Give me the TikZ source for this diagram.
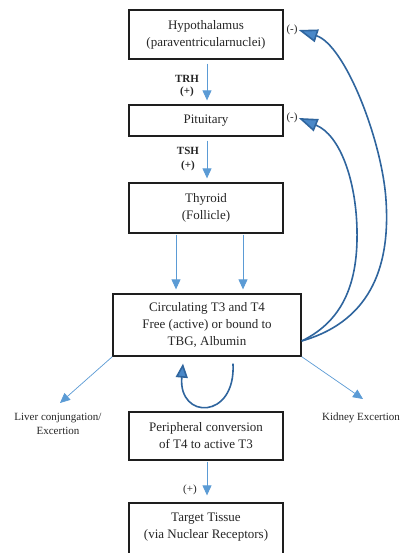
\documentclass[tikz,border=0pt]{standalone}
\usepackage{fontspec}
\setmainfont{Liberation Serif}
\usetikzlibrary{arrows.meta}
\definecolor{thinblue}{HTML}{5B9BD5}
\definecolor{darkblue}{HTML}{2F659E}
\definecolor{headblue}{HTML}{4A88C8}
\definecolor{boxline}{HTML}{1E1E1E}
\definecolor{txt}{HTML}{262626}
\tikzset{
  box/.style={draw=boxline, line width=1.3pt, minimum width=154pt, inner sep=0pt,
    align=center, text=txt, font=\fontsize{13}{17}\selectfont},
  lab/.style={inner sep=0pt, text=txt, font=\fontsize{11}{14}\selectfont, align=center},
  blab/.style={lab, font=\fontsize{11}{13}\selectfont\bfseries},
  thinarrow/.style={draw=thinblue, line width=0.9pt, -{Triangle[length=10pt,width=9pt]}},
  thinline/.style={draw=thinblue, line width=0.7pt, -{Triangle[length=10pt,width=9pt]}},
  fb/.style={draw=darkblue, line width=1.6pt, -{Triangle[length=19pt,width=13pt,fill=headblue]}},
  fbsmall/.style={draw=darkblue, line width=1.6pt, -{Triangle[length=14pt,width=12pt,fill=headblue]}}
}
\begin{document}
\begin{tikzpicture}[x=1pt,y=-1pt]
\clip (0,0) rectangle (401,553);
\fill[white] (0,0) rectangle (401,553);

\node[box, minimum height=49pt] (hyp) at (206,34.5) {Hypothalamus\\(paraventricularnuclei)};
\node[box, minimum height=31pt] (pit) at (206,120.5) {Pituitary};
\node[box, minimum height=50pt] (thy) at (206,208) {Thyroid\\(Follicle)};
\node[box, minimum height=62pt, minimum width=188pt] (circ) at (207,325) {Circulating T3 and T4\\Free (active) or bound to\\TBG, Albumin};
\node[box, minimum height=48pt] (peri) at (206,436) {Peripheral conversion\\of T4 to active T3};
\node[box, minimum height=62pt] (tgt) at (206,534) {Target Tissue\\(via Nuclear Receptors)\\\mbox{}};

% labels
\node[blab] (trh) at (187,79) {TRH};
\node[blab] (trhp) at (187,92) {(+)};
\node[blab] (tsh) at (188,151) {TSH};
\node[blab] (tshp) at (188,166) {(+)};
\node[lab] (m1) at (292,30) {(-)};
\node[lab] (m2) at (292,118) {(-)};
\node[lab] (pp) at (190,490) {(+)};
\node[lab] (liver) at (58,424) {Liver conjungation/\\Excertion};
\node[lab] (kid) at (361,418) {Kidney Excertion};

% thin arrows
\draw[thinarrow] ([xshift=1pt,yshift=-4pt]hyp.south) -- ([xshift=1pt,yshift=4pt]pit.north);
\draw[thinarrow] ([xshift=1pt,yshift=-4pt]pit.south) -- ([xshift=1pt,yshift=4pt]thy.north);
\draw[thinarrow] ([xshift=-30pt,yshift=-1pt]thy.south) -- ([xshift=-31pt,yshift=4pt]circ.north);
\draw[thinarrow] ([xshift=37pt,yshift=-1pt]thy.south) -- ([xshift=36pt,yshift=4pt]circ.north);
\draw[thinarrow] ([xshift=1pt,yshift=-1pt]peri.south) -- ([xshift=1pt,yshift=7pt]tgt.north);

\coordinate (livtip) at (60,403);
\coordinate (kidtip) at (363,399);
\draw[thinline] (circ.south west) -- (livtip);
\draw[thinline] (circ.south east) -- (kidtip);

% feedback curves
\coordinate (fbstart) at ([yshift=-16pt]circ.east);
\draw[fb] (fbstart) .. controls (375,320) and (390,260) .. (386,200)
  .. controls (382,140) and (345,45) .. ([xshift=1pt]m1.east);
\draw[fb] (fbstart) .. controls (345,320) and (358,280) .. (357,230)
  .. controls (356,180) and (340,135) .. ([xshift=1pt]m2.east);

% loop
\coordinate (lpstart) at ([xshift=26pt,yshift=-7pt]circ.south);
\coordinate (lpend) at ([xshift=-24pt,yshift=-7pt]circ.south);
\draw[fbsmall] (lpstart) .. controls (236,420) and (178,420) .. (lpend);
\end{tikzpicture}
\end{document}
